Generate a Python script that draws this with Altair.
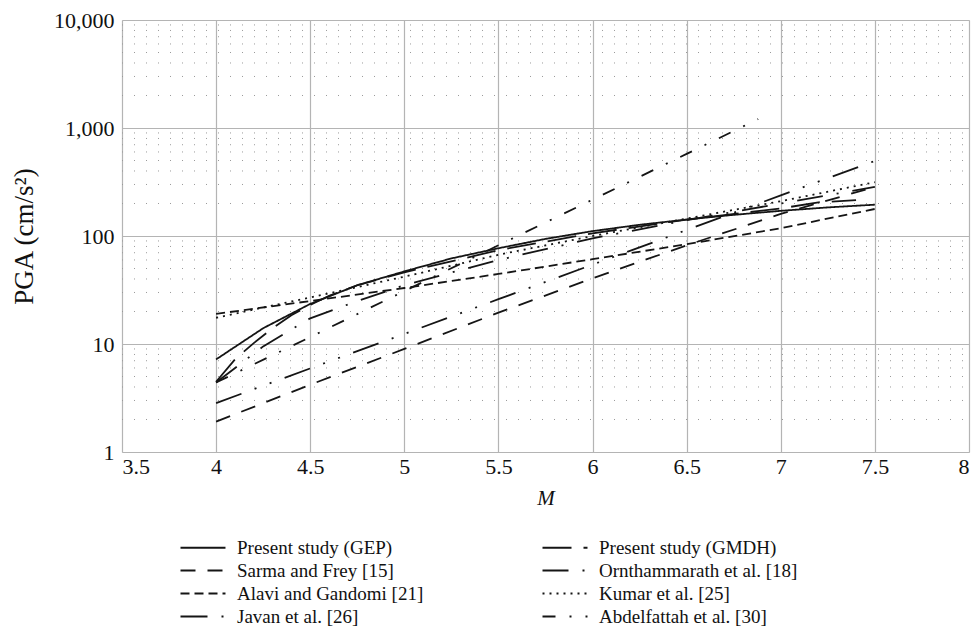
import altair as alt
import pandas as pd

# ---- data ----
names = [
    "Present study (GEP)", "Present study (GMDH)",
    "Sarma and Frey [15]", "Ornthammarath et al. [18]",
    "Alavi and Gandomi [21]", "Kumar et al. [25]",
    "Javan et al. [26]", "Abdelfattah et al. [30]",
]

gep_M = [4, 4.25, 4.5, 4.75, 5, 5.25, 5.5, 5.75, 6, 6.25, 6.5, 6.75, 7, 7.25, 7.5]
gep_P = [7.2, 14, 23.5, 35, 47, 62, 77, 94, 111, 127, 142, 157, 171, 184, 195]

gmdh_M = [4, 4.1, 4.2, 4.3, 4.4, 4.5, 4.6, 4.75, 5, 5.5, 6, 6.5, 7, 7.2, 7.4]
gmdh_P = [4.47, 7.2, 10.2, 14, 18.5, 23, 28, 35, 46, 74, 106, 142, 180, 205, 215]

sarma_M = [4, 4.5, 5, 5.5, 6, 6.5, 7, 7.5]
sarma_P = [1.91, 4.2, 9.0, 19.5, 40.6, 82, 160, 285]

orn_M = [4, 4.25, 4.5, 4.75, 5, 5.5, 6, 6.5, 7, 7.5]
orn_P = [4.4, 9.5, 17.3, 25, 35, 60, 95, 140, 200, 285]

alavi_M = [4, 4.5, 5, 5.5, 6, 6.5, 7, 7.5]
alavi_P = [19, 25, 33, 44.5, 61, 84, 118, 178]

kumar_M = [4, 4.5, 5, 5.5, 6, 6.5, 7, 7.5]
kumar_P = [17.5, 27, 42, 67, 100, 145, 210, 315]

javan_M = [4, 4.5, 5, 5.5, 6, 6.5, 7, 7.5]
javan_P = [2.84, 5.94, 12.4, 26.0, 54.3, 113.6, 237.5, 496]

abd_M = [4, 4.5, 5, 5.5, 6, 6.5, 6.88]
abd_P = [4.4, 11.6, 30.9, 82, 217, 576, 1210]

x_ticks = [3.5, 4, 4.5, 5, 5.5, 6, 6.5, 7, 7.5, 8]
y_ticks = [1, 10, 100, 1000, 10000]

series = [
    (names[0], gep_M, gep_P), (names[1], gmdh_M, gmdh_P),
    (names[2], sarma_M, sarma_P), (names[3], orn_M, orn_P),
    (names[4], alavi_M, alavi_P), (names[5], kumar_M, kumar_P),
    (names[6], javan_M, javan_P), (names[7], abd_M, abd_P),
]
rows = []
for n, ms, ps in series:
    for m, p in zip(ms, ps):
        rows.append({"series": n, "M": m, "PGA": p})
df = pd.DataFrame(rows)

minor_vals = [k * 10 ** e for e in range(4) for k in range(2, 10)]
minor_df = pd.DataFrame({"PGA": minor_vals})

# ---- styling ----
W, H = 847, 432
FONT = "Liberation Serif"
dashes = [
    [1, 0],
    [29, 12],
    [15, 12],
    [26, 14, 2, 14],
    [9, 5],
    [2, 5],
    [27, 14, 2, 14, 2, 14],
    [13, 14, 2, 14],
]

yscale = alt.Scale(type="log", domain=[1, 10000])
xscale = alt.Scale(domain=[3.5, 8], nice=False, zero=False)

y_axis = alt.Axis(
    values=y_ticks, format=",", title="PGA (cm/s²)",
    titleFontWeight="normal", titleFontSize=27, titlePadding=15,
    labelFontSize=22, labelPadding=8, ticks=False, domain=False,
    grid=True, gridColor="#b4b4b4", gridWidth=1.2,
    labelFont=FONT, titleFont=FONT, labelColor="#111", titleColor="#111",
)
x_axis = alt.Axis(
    values=x_ticks, format="~g", title="M", titleFontStyle="italic",
    titleFontWeight="normal", titleFontSize=21, titlePadding=10,
    labelFontSize=22, labelPadding=4, ticks=False, domain=False,
    grid=True, gridColor="#b4b4b4", gridWidth=1.2,
    labelFont=FONT, titleFont=FONT, labelColor="#111", titleColor="#111",
)

minor = alt.Chart(minor_df).mark_rule(
    color="#9a9a9a", strokeDash=[1, 11], strokeWidth=1
).encode(
    y=alt.Y("PGA:Q", scale=yscale, axis=y_axis),
    x=alt.value(0),
    x2=alt.value(W),
)

lines = alt.Chart(df).mark_line(
    color="#151515", strokeWidth=1.8, strokeCap="butt"
).encode(
    x=alt.X("M:Q", scale=xscale, axis=x_axis),
    y=alt.Y("PGA:Q", scale=yscale, axis=y_axis),
    strokeDash=alt.StrokeDash(
        "series:N",
        scale=alt.Scale(domain=names, range=dashes),
        sort=names,
        legend=alt.Legend(
            title=None, orient="none", legendX=49, legendY=518,
            direction="horizontal", columns=2, columnPadding=109,
            rowPadding=3,
            symbolType="M0,0H8", symbolSize=126.5, symbolStrokeWidth=1.8,
            symbolStrokeColor="#151515", labelOffset=47,
            labelFont=FONT, labelFontSize=19, labelColor="#111", labelLimit=0,
        ),
    ),
    order=alt.Order("M:Q"),
)

chart = alt.layer(minor, lines).properties(
    width=W, height=H,
    autosize=alt.AutoSizeParams(type="none"),
    padding={"left": 122, "top": 20, "right": 9, "bottom": 176},
).configure_view(
    stroke="#1a1a1a", strokeWidth=1.6
).configure_axis(
    labelFont=FONT, titleFont=FONT
).configure(background="white")

chart.save("out.html", embed_options={"renderer": "svg", "actions": False})
